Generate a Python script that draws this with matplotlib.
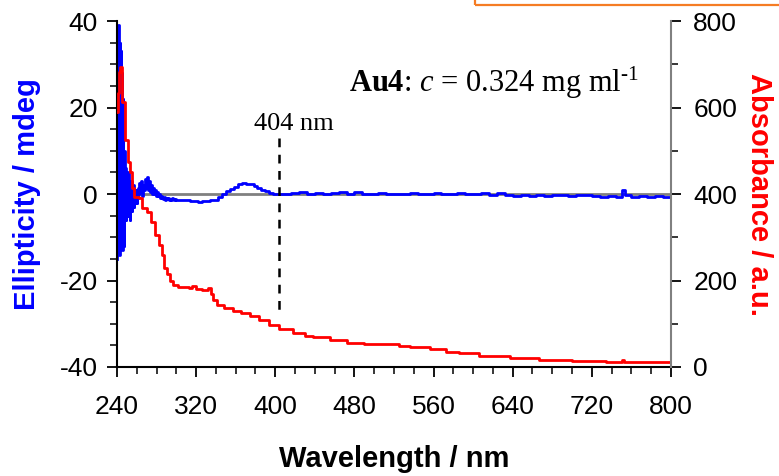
import matplotlib
matplotlib.use("Agg")
import matplotlib.pyplot as plt
from matplotlib.patches import Rectangle
from matplotlib.ticker import MultipleLocator

plt.rcParams['font.family'] = ['Liberation Sans', 'DejaVu Sans']
plt.rcParams['axes.unicode_minus'] = False
plt.rcParams['mathtext.fontset'] = 'custom'
plt.rcParams['mathtext.rm'] = 'Liberation Serif'
plt.rcParams['mathtext.it'] = 'Liberation Serif:italic'
plt.rcParams['mathtext.bf'] = 'Liberation Serif:bold'

# CD spectrum (ellipticity, mdeg)
cd_nm = [240.0, 240.5, 241.0, 241.5, 242.0, 242.5, 243.0, 243.5, 244.0, 244.5,
         245.0, 245.5, 246.0, 246.5, 247.0, 247.5, 248.0, 248.5, 249.0, 249.5,
         250.0, 250.5, 251.0, 251.5, 252.0, 252.5, 253.0, 253.5, 254.0, 254.5,
         255.0, 255.5, 256.0, 256.5, 257.0, 257.5, 258.0, 258.5, 259.0, 259.5,
         260.0, 260.5, 261.0, 261.5, 262.0,
         263, 264, 265, 266, 267, 268, 269, 270, 271, 272, 273, 274, 275, 276,
         277, 278, 279, 280, 281, 282, 283, 284, 285, 286, 287, 288, 289, 290,
         291, 292, 293, 294, 295, 296, 297, 298, 299, 300,
         304, 308, 312, 316, 320, 324, 328, 332, 336, 340, 344, 348, 352, 356,
         360, 364, 368, 372, 376, 380, 384, 388, 392, 396, 400,
         404, 412, 420, 428, 436, 444, 452, 460, 468, 476, 484, 492, 500, 508,
         516, 524, 532, 540, 548, 556, 564, 572, 580, 588, 596, 604, 612, 620,
         628, 636, 644, 652, 660, 668, 676, 684, 692, 700, 708, 716, 724, 732,
         740, 748, 752, 756, 764, 772, 780, 788, 796, 800]
cd_mdeg = [-15, 2, 28, 39, 12, -14, 35, 20, 33, -2,
           28, -13, 22, 5, -12, 10, -4, 6, -6, 3,
           -5, 4, -3, 5, -5, 2, -6, 1, -3, 3,
           -4, 0, -2, 2, -3, 1, -2, 0, -1.5, 1,
           -2, 0.5, -1, 1.5, 0,
           2.5, 0.5, 3, -0.5, 2, 1, 3.5, 1.5, 4, 1, 3, 0.5, 2, 0,
           1.5, 0, 1, -0.5, 0.5, -0.5, 0, -1, -0.5, -1, -1.2, -0.8, -1.3, -1,
           -1.2, -0.9, -1.3, -1.1, -1.4, -1, -1.2, -1.5, -1.1, -1.3,
           -1.4, -1.5, -1.3, -1.6, -1.7, -1.9, -1.6, -1.7, -1.5, -1.4, -0.6, 0.1, 0.6, 1.1,
           1.7, 2.2, 2.5, 2.4, 2.2, 1.9, 1.5, 1.0, 0.6, 0.3, 0.0,
           0.1, 0.0, 0.2, 0.4, 0.1, 0.3, 0.0, 0.3, 0.4, 0.1, 0.4, 0.0, 0.1, 0.3,
           0.0, 0.1, 0.0, 0.3, 0.0, 0.1, 0.3, 0.0, 0.1, 0.3, -0.1, 0.0, 0.2, -0.2,
           0.3, -0.2, -0.4, -0.3, -0.4, -0.2, -0.5, -0.3, -0.2, -0.5, -0.2, -0.3, -0.5, -0.6,
           -0.4, -0.6, 0.9, -0.3, -0.7, -0.5, -0.8, -0.5, -0.7, -0.6]

# UV-vis absorbance
abs_nm = [240, 241, 242, 243.5, 245.5, 248.5, 251.5, 253, 255, 257, 262, 265,
          270, 274, 278, 282, 285, 288, 291, 294, 297, 302, 313, 316, 320, 326,
          332, 335, 337, 341, 348, 357, 365, 374, 384, 394, 404, 418, 430, 438,
          455, 472, 490, 505, 525, 536, 556, 573, 586, 606, 637, 667, 700, 734,
          750, 752, 800]
abs_au = [590, 633, 683, 694, 613, 525, 475, 451, 414, 394, 391, 368,
          359, 336, 305, 282, 259, 229, 215, 200, 190, 185, 183, 188, 181, 178,
          182, 168, 155, 143, 136, 130, 125, 118, 109, 97, 88, 79, 72, 69,
          62, 56, 54, 53, 49, 47, 42, 35, 32, 26, 21, 16, 15, 12,
          17, 12, 11]

peak_nm = 404

fig = plt.figure(figsize=(7.79, 4.76), dpi=100)
ax = fig.add_axes([117 / 779, 1 - 367 / 476, 554 / 779, 346 / 476])
ax2 = ax.twinx()

ax.axhline(0, color='#808080', lw=2, zorder=1)
ax.plot(cd_nm, cd_mdeg, color='#0000ff', lw=2, drawstyle='steps-mid', zorder=2)
ax.plot([peak_nm, peak_nm], [12.9, -27.5], color='black', lw=1.8,
        dashes=(3.5, 3), zorder=3)
ax2.plot(abs_nm, abs_au, color='#ff0000', lw=2, drawstyle='steps-post')

ax.set_xlim(240, 800)
ax.set_ylim(-40, 40)
ax2.set_ylim(0, 800)

ax.xaxis.set_major_locator(MultipleLocator(80))
ax.xaxis.set_minor_locator(MultipleLocator(20))
ax.yaxis.set_major_locator(MultipleLocator(20))
ax.yaxis.set_minor_locator(MultipleLocator(5))
ax2.yaxis.set_major_locator(MultipleLocator(200))
ax2.yaxis.set_minor_locator(MultipleLocator(100))

for a in (ax, ax2):
    a.tick_params(which='major', length=7, width=1.3, labelsize=19)
    a.tick_params(which='minor', length=5, width=1.1)
    a.spines['top'].set_visible(False)
ax.tick_params(axis='x', which='major', pad=13)
ax.tick_params(axis='y', which='major', pad=7)
ax2.tick_params(axis='y', which='major', pad=9)
ax.spines['right'].set_visible(False)
ax2.spines['left'].set_visible(False)
ax2.spines['bottom'].set_visible(False)
ax2.spines['right'].set_color('#808080')
ax2.spines['right'].set_linewidth(1.5)
ax.spines['left'].set_linewidth(1.5)
ax.spines['bottom'].set_linewidth(1.5)

ax.set_xlabel('Wavelength / nm', fontsize=21, fontweight='bold', labelpad=19)
ax.set_ylabel('Ellipticity / mdeg', fontsize=21, fontweight='bold',
              color='#0000ff', labelpad=13)
ax2.set_ylabel('Absorbance / a.u.', fontsize=21, fontweight='bold',
               color='#ff0000', rotation=270, labelpad=26)

ax.text(621, 23.6, r'$\mathbf{Au4}$: $\mathit{c}$ = 0.324 mg ml$^{\text{-1}}$',
        family='Liberation Serif', fontsize=22, ha='center', va='baseline')
ax.text(419, 14.8, '404 nm', family='Liberation Serif', fontsize=19,
        ha='center', va='baseline')

# orange frame running off the top edge
fig.add_artist(Rectangle((475 / 779, 1 - 5 / 476), 0.6, 0.1,
                         transform=fig.transFigure, fill=False,
                         edgecolor='#f57c24', lw=1.6))

fig.savefig('out.png', dpi=100)
